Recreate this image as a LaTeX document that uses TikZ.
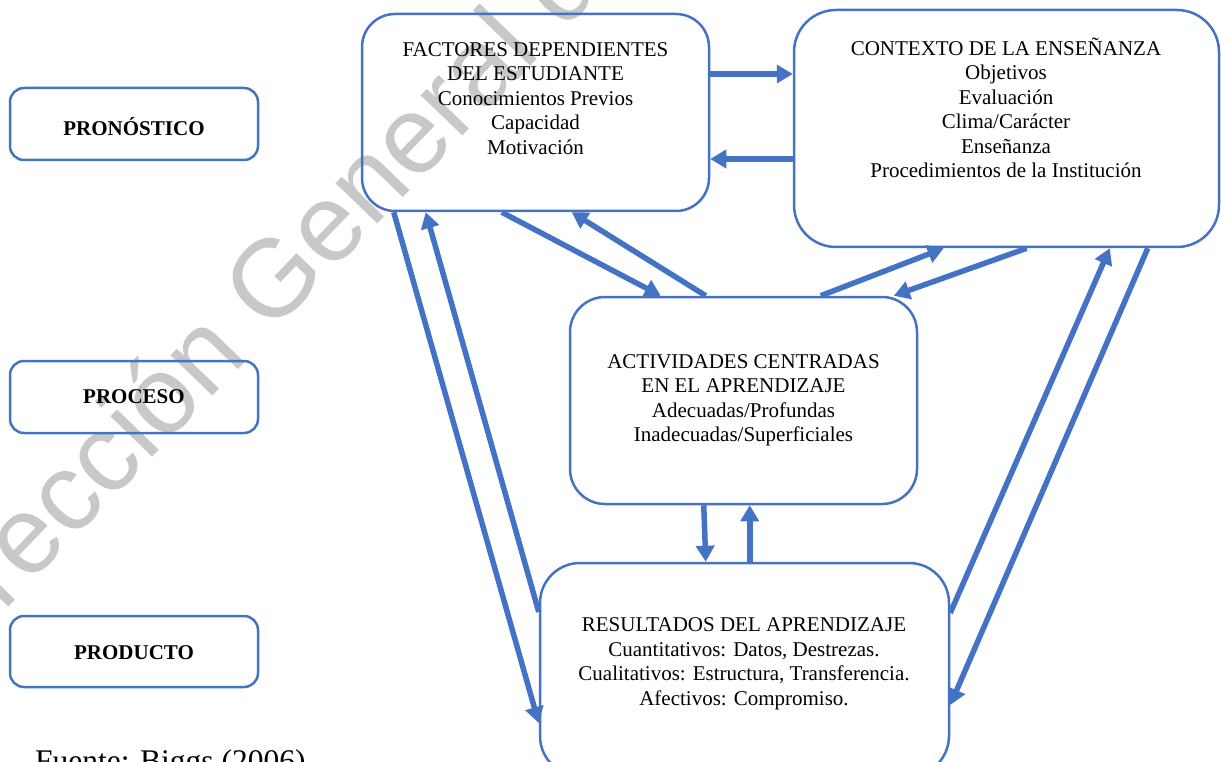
\documentclass[tikz,border=0pt]{standalone}
\usepackage{fontspec}
\setmainfont{Liberation Serif}
\newfontfamily\wmfont{Liberation Sans}
\usetikzlibrary{arrows.meta,calc}
\definecolor{boxblue}{HTML}{4472C4}
\definecolor{wmgray}{RGB}{200,200,200}

\begin{document}
\begin{tikzpicture}[x=1pt,y=-1pt,
  box/.style={draw=boxblue, line width=2.5pt, rounded corners=#1, inner sep=0pt},
  txt/.style={font=\fontsize{21pt}{24.5pt}\selectfont, align=center, inner sep=0pt},
  stage/.style={font=\fontsize{21pt}{24.5pt}\selectfont\bfseries, inner sep=0pt},
  arr/.style={draw=boxblue, line width=5.5pt, -{Triangle[length=16pt,width=18pt]}}
]
\useasboundingbox (0,0) rectangle (1221,762);

% background watermark
\node[font=\wmfont\fontsize{110pt}{110pt}\selectfont, text=wmgray, rotate=46,
      anchor=base west, inner sep=0pt] (wm) at (-69,687) {Dirección General de};

% stage labels on the left
\node[box=14pt, minimum width=248pt, minimum height=72pt] (pron) at (134,124) {};
\node[box=14pt, minimum width=248pt, minimum height=72pt] (proc) at (134,397) {};
\node[box=14pt, minimum width=248pt, minimum height=71pt] (prod) at (134,651.5) {};
\node[stage] (pronT) at (134,127) {PRONÓSTICO};
\node[stage] (procT) at (134,397) {PROCESO};
\node[stage] (prodT) at (134,653) {PRODUCTO};

% main boxes
\node[box=33pt, minimum width=347pt, minimum height=197pt] (fac) at (535.5,112.5) {};
\node[box=42pt, minimum width=425pt, minimum height=237pt] (ctx) at (1006.5,128.5) {};
\node[box=35pt, minimum width=347pt, minimum height=207pt] (act) at (743.5,400.5) {};
\node[box=40pt, minimum width=409pt, minimum height=213pt] (res) at (744.5,669.5) {};

\node[txt] (facT) at (535.5,98.5) {FACTORES DEPENDIENTES\\DEL ESTUDIANTE\\Conocimientos Previos\\Capacidad\\Motivación};
\node[txt] (ctxT) at (1006,108) {CONTEXTO DE LA ENSEÑANZA\\Objetivos\\Evaluación\\Clima/Carácter\\Enseñanza\\Procedimientos de la Institución};
\node[txt] (actT) at (743.5,400.5) {ACTIVIDADES CENTRADAS\\EN EL APRENDIZAJE\\Adecuadas/Profundas\\Inadecuadas/Superficiales};
\node[txt] (resT) at (744,664) {RESULTADOS DEL APRENDIZAJE\\Cuantitativos: Datos, Destrezas.\\Cualitativos: Estructura, Transferencia.\\Afectivos: Compromiso.};

% source line
\node[font=\fontsize{31.5pt}{36pt}\selectfont, anchor=base west, inner sep=0pt] (src) at (35,771) {Fuente: Biggs (2006)};

% connectors
\draw[arr] ([yshift=38.5pt]fac.east) -- ([yshift=54.5pt]ctx.west);
\draw[arr] ([yshift=-30.5pt]ctx.west) -- ([yshift=-46.5pt]fac.east);
\draw[arr] ([xshift=141pt]fac.south west) -- ([xshift=92pt]act.north west);
\draw[arr] ([xshift=137pt]act.north west) -- ([xshift=211pt]fac.south west);
\draw[arr] ([xshift=252pt]act.north west) -- ([xshift=151pt]ctx.south west);
\draw[arr] ([xshift=234pt]ctx.south west) -- ([xshift=325pt]act.north west);
\draw[arr] ([xshift=33pt]fac.south west) -- ([yshift=-53.5pt]res.west);
\draw[arr] ([yshift=57.5pt]res.west) -- ([xshift=65pt]fac.south west);
\draw[arr] ([xshift=135pt]act.south west) -- ([xshift=167pt]res.north west);
\draw[arr] ([xshift=211pt]res.north west) -- ([xshift=181pt]act.south west);
\draw[arr] ([yshift=56.5pt]res.east) -- ([xshift=317pt]ctx.south west);
\draw[arr] ([xshift=355pt]ctx.south west) -- ([yshift=-35.5pt]res.east);
\end{tikzpicture}
\end{document}
